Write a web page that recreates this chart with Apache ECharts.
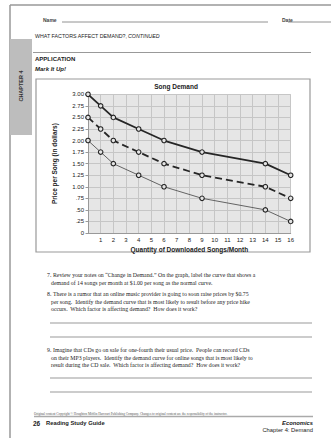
<!DOCTYPE html>
<html>
<head>
<meta charset="utf-8">
<script src="https://cdn.jsdelivr.net/npm/echarts@6/dist/echarts.min.js"></script>
<style>
  html, body { margin: 0; padding: 0; background: #fff; }
  #main { width: 331px; height: 438px; }
</style>
</head>
<body>
<div id="main"></div>
<script>
// songs per month (x) and price per song for the three demand curves
var qty = [0, 1, 2, 4, 6, 9, 14, 16];
var priceHigh = [3.00, 2.75, 2.50, 2.25, 2.00, 1.75, 1.50, 1.25];
var priceMid = [2.50, 2.25, 2.00, 1.75, 1.50, 1.25, 1.00, 0.75];
var priceLow = [2.00, 1.75, 1.50, 1.25, 1.00, 0.75, 0.50, 0.25];
var yLabels = ['0', '.25', '.50', '.75', '1.00', '1.25', '1.50', '1.75', '2.00', '2.25', '2.50', '2.75', '3.00'];

function pairs(ys) {
    return qty.map(function (q, i) { return [q, ys[i]]; });
}

var SANS = 'Liberation Sans';
var SERIF = 'Liberation Serif';

function txt(x, y, text, font, extra, rot) {
    var s = { text: text, font: font, fill: '#222', textAlign: 'left', textVerticalAlign: 'middle' };
    for (var k in extra) s[k] = extra[k];
    return { type: 'text', x: x, y: y, rotation: rot || 0, silent: true, style: s };
}
function hline(x1, x2, y, color, w) {
    return { type: 'line', silent: true, shape: { x1: x1, y1: y, x2: x2, y2: y },
        style: { stroke: color || '#888', lineWidth: w || 1 } };
}

var q7 = ['Review your notes on \u201cChange in Demand.\u201d On the graph, label the curve that shows a',
    'demand of 14 songs per month at $1.00 per song as the normal curve.'];
var q8 = ['There is a rumor that an online music provider is going to soon raise prices by $0.75',
    'per song.  Identify the demand curve that is most likely to result before any price hike',
    'occurs.  Which factor is affecting demand?  How does it work?'];
var q9 = ['Imagine that CDs go on sale for one-fourth their usual price.  People can record CDs',
    'on their MP3 players.  Identify the demand curve for online songs that is most likely to',
    'result during the CD sale.  Which factor is affecting demand?  How does it work?'];

var qFont = '5.8px "' + SERIF + '"';
var page = [
    // page edges
    { type: 'line', silent: true, shape: { x1: 10, y1: 5, x2: 331, y2: 5 }, style: { stroke: '#999', lineWidth: 1.5 } },
    { type: 'line', silent: true, shape: { x1: 10, y1: 5, x2: 10, y2: 438 }, style: { stroke: '#999', lineWidth: 1.5 } },
    // chapter tab
    { type: 'rect', silent: true, shape: { x: 10, y: 39, width: 22, height: 96 }, style: { fill: '#bdbdbd' } },
    txt(21, 86, 'CHAPTER 4', 'bold 5.5px "' + SANS + '"', { textAlign: 'center', fill: '#333' }, Math.PI / 2),
    // header
    txt(43, 20, 'Name', 'bold 5px "' + SANS + '"', { fill: '#444' }),
    hline(62, 268, 22, '#777', 0.8),
    txt(282, 20, 'Date', 'bold 5px "' + SANS + '"', { fill: '#444' }),
    hline(288, 331, 22, '#777', 0.8),
    txt(35, 36, 'WHAT FACTORS AFFECT DEMAND?,', '5.3px "' + SANS + '"'),
    txt(128, 36, 'CONTINUED', 'italic 5.3px "' + SANS + '"'),
    hline(33, 311, 52.5, '#999', 1),
    txt(35, 58.5, 'APPLICATION', 'bold 6px "' + SANS + '"'),
    txt(35, 68.5, 'Mark It Up!', 'italic bold 6px "' + SANS + '"'),
    // chart frame
    { type: 'rect', silent: true, z: -1, shape: { x: 36, y: 79, width: 274, height: 173 },
        style: { fill: null, stroke: '#999', lineWidth: 1.2 } },
    // questions
    txt(47, 275, '7.', qFont), txt(53, 275, q7[0], qFont), txt(51, 282.5, q7[1], qFont),
    txt(47, 294, '8.', qFont), txt(53, 294, q8[0], qFont), txt(51, 301.5, q8[1], qFont), txt(51, 309, q8[2], qFont),
    hline(50, 312, 323, '#999', 1), hline(50, 312, 337, '#999', 1),
    txt(47, 350, '9.', qFont), txt(53, 350, q9[0], qFont), txt(51, 357.5, q9[1], qFont), txt(51, 365, q9[2], qFont),
    hline(50, 312, 378, '#999', 1), hline(50, 312, 392, '#999', 1),
    // footer
    txt(34, 413.5, 'Original content Copyright \u00a9 Houghton Mifflin Harcourt Publishing Company. Changes to original content are the responsibility of the instructor.',
        '3.3px "' + SERIF + '"', { fill: '#555' }),
    hline(34, 313, 416.5, '#aaa', 1.3),
    txt(33, 423, '26', 'bold 6.5px "' + SANS + '"'),
    txt(46, 423, 'Reading Study Guide', 'bold 5.8px "' + SANS + '"'),
    txt(313, 423, 'Economics', 'italic bold 5.8px "' + SANS + '"', { textAlign: 'right' }),
    txt(313, 430, 'Chapter 4: Demand', '5.8px "' + SANS + '"', { textAlign: 'right' })
];

var chart = echarts.init(document.getElementById('main'), null, { renderer: 'svg' });

function curve(data, lineStyle) {
    return {
        type: 'line',
        data: pairs(data),
        symbol: 'circle',
        symbolSize: 4.5,
        itemStyle: { color: '#e4e4e4', borderColor: '#222', borderWidth: 1.1 },
        lineStyle: lineStyle,
        animation: false
    };
}

chart.setOption({
    animation: false,
    title: {
        text: 'Song Demand',
        left: 176,
        top: 83,
        textAlign: 'center',
        padding: 0,
        textStyle: { fontFamily: SANS, fontSize: 6.5, fontWeight: 'bold', color: '#222' }
    },
    grid: {
        left: 88, top: 94.3, width: 202.7, height: 138.7,
        show: true, backgroundColor: '#e6e6e6', borderWidth: 0
    },
    xAxis: {
        type: 'value', min: 0, max: 16, interval: 1,
        name: 'Quantity of Downloaded Songs/Month',
        nameLocation: 'middle', nameGap: 13,
        nameTextStyle: { fontFamily: SANS, fontSize: 6.5, fontWeight: 'bold', color: '#222' },
        axisLine: { lineStyle: { color: '#999', width: 1 } },
        axisTick: { show: false },
        splitLine: { lineStyle: { color: '#c6c6c6', width: 1 } },
        axisLabel: {
            fontFamily: SANS, fontSize: 6, color: '#222', margin: 4,
            formatter: function (v) { return v === 0 ? '' : String(v); }
        }
    },
    yAxis: {
        type: 'value', min: 0, max: 3, interval: 0.25,
        name: 'Price per Song (in dollars)',
        nameLocation: 'middle', nameGap: 30,
        nameTextStyle: { fontFamily: SANS, fontSize: 6.5, fontWeight: 'bold', color: '#222' },
        axisLine: { show: true, lineStyle: { color: '#999', width: 1 } },
        axisTick: { show: true, length: 2.5, lineStyle: { color: '#999' } },
        splitLine: { lineStyle: { color: '#c6c6c6', width: 1 } },
        axisLabel: {
            fontFamily: SANS, fontSize: 6, color: '#222', margin: 4,
            formatter: function (v) { return yLabels[Math.round(v / 0.25)]; }
        }
    },
    series: [
        curve(priceHigh, { color: '#262626', width: 1.8 }),
        curve(priceMid, { color: '#262626', width: 1.8, type: [7, 4] }),
        curve(priceLow, { color: '#555', width: 0.9 })
    ],
    graphic: page
});
</script>
</body>
</html>
